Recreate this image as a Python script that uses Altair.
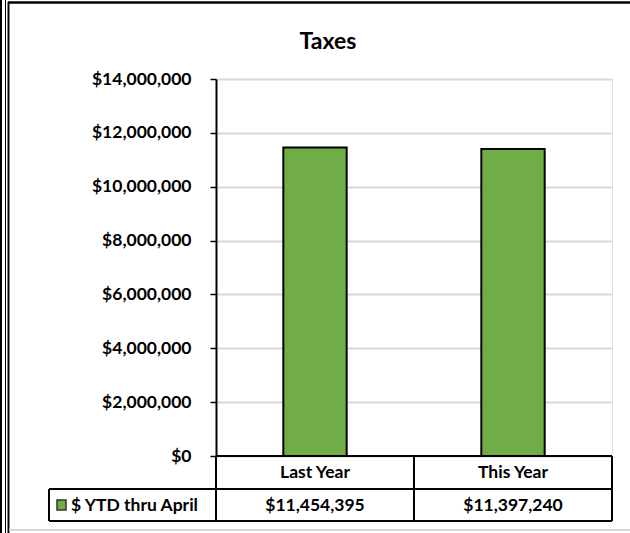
import altair as alt
import pandas as pd

# ---- data ----
categories = ["Last Year", "This Year"]
values = [11454395, 11397240]
value_labels = ["$11,454,395", "$11,397,240"]
series_name = "$ YTD thru April"
y_ticks = [0, 2000000, 4000000, 6000000, 8000000, 10000000, 12000000, 14000000]
chart_title = "Taxes"

df = pd.DataFrame({"cat": categories, "value": values, "label": value_labels})
one = pd.DataFrame({"series": [series_name], "title": [chart_title]})

FONT = "Lato"
GREEN = "#70ad47"
W, H = 396, 377
FS = 17.5

xenc = alt.X("cat:N", sort=categories,
             scale=alt.Scale(paddingInner=0.68, paddingOuter=0.34),
             axis=None)

yenc = alt.Y("value:Q",
             scale=alt.Scale(domain=[0, 14000000], nice=False),
             axis=alt.Axis(values=y_ticks, format="$,.0f", title=None,
                           labelFont=FONT, labelFontWeight="bold", labelFontSize=FS,
                           labelColor="black", labelPadding=19,
                           tickColor="black", tickSize=6, tickWidth=1.5,
                           domainColor="black", domainWidth=2,
                           gridColor="#d9d9d9", gridWidth=2))

base = alt.Chart(df)

bars = base.mark_bar(color=GREEN, stroke="black", strokeWidth=2).encode(x=xenc, y=yenc)

header = base.mark_text(font=FONT, fontWeight="bold", fontSize=FS, color="black",
                        baseline="middle").encode(
    x=alt.X("cat:N", sort=categories, axis=None), y=alt.value(394), text="cat:N")

vals = base.mark_text(font=FONT, fontWeight="bold", fontSize=FS, color="black",
                      baseline="middle").encode(
    x=alt.X("cat:N", sort=categories, axis=None), y=alt.value(427), text="label:N")

ob = alt.Chart(one)
legend_text = ob.mark_text(font=FONT, fontWeight="bold", fontSize=FS, color="black",
                           align="left", baseline="middle").encode(
    x=alt.value(-145), y=alt.value(427), text="series:N")
swatch = ob.mark_rect(color=GREEN, stroke="#333333", strokeWidth=1.5).encode(
    x=alt.value(-159), x2=alt.value(-150), y=alt.value(421), y2=alt.value(431))
title = ob.mark_text(font=FONT, fontWeight="bold", fontSize=23, color="black",
                     baseline="middle").encode(
    x=alt.value(112), y=alt.value(-37), text="title:N")


def hrule(x1, x2, y, color="black", w=2):
    return ob.mark_rule(color=color, strokeWidth=w).encode(
        x=alt.value(x1), x2=alt.value(x2), y=alt.value(y))


def vrule(x, y1, y2, color="black", w=2):
    return ob.mark_rule(color=color, strokeWidth=w).encode(
        x=alt.value(x), y=alt.value(y1), y2=alt.value(y2))


table_lines = [
    hrule(0, W, H),
    hrule(-167, W, 410),
    hrule(-167, W, 442),
    vrule(-167, 410, 442),
    vrule(0, H, 442),
    vrule(198, H, 442),
    vrule(W, H, 442),
]

frame = [
    hrule(-208, 414, -76.5, w=2.5),
    vrule(-215, -79, 454, w=2),
    vrule(-210.5, -79, 454, w=1),
    vrule(-207.5, -77, 454, w=2),
    hrule(-207, 414, 451, color="#d9d9d9", w=2),
]

chart = alt.layer(bars, header, vals, legend_text, swatch, title,
                  *table_lines, *frame).properties(
    width=W, height=H,
    autosize=alt.AutoSizeParams(type="none"),
    padding={"left": 216, "top": 79, "right": 18, "bottom": 77},
).configure_view(stroke=None).configure(background="white")

chart.save("out.html", embed_options={"renderer": "svg", "actions": False})
